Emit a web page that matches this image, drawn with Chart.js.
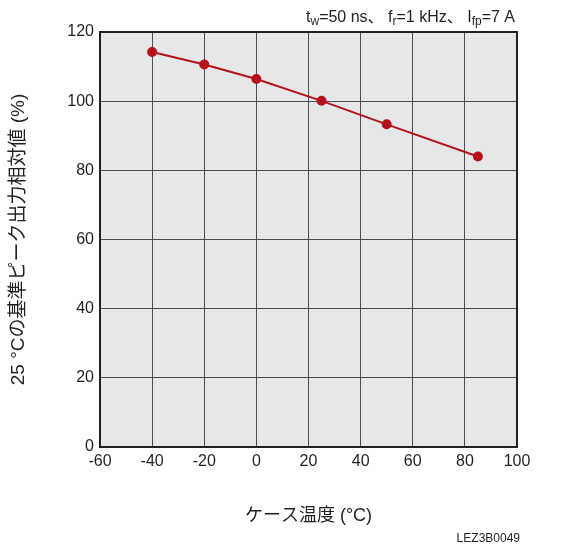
<!DOCTYPE html>
<html>
<head>
<meta charset="utf-8">
<script src="https://cdn.jsdelivr.net/npm/chart.js@4"></script>
<style>
  html, body { margin: 0; padding: 0; background: #fff; }
  #wrap { width: 576px; height: 546px; }
</style>
</head>
<body>
<div id="wrap"><canvas id="myChart"></canvas></div>
<script>
const temps = [-40, -20, 0, 25, 50, 85]
const relOutput = [114.2, 110.6, 106.4, 100.1, 93.3, 84.0]
const xTicks = [-60, -40, -20, 0, 20, 40, 60, 80, 100]
const yTicks = [0, 20, 40, 60, 80, 100, 120]

const FONT = "'Liberation Sans', Arial, 'Noto Sans CJK JP', sans-serif"

// gray plot area, full frame, condition note, figure code
const extras = {
  id: 'extras',
  beforeDraw(chart) {
    const { ctx, chartArea: a } = chart
    ctx.save()
    ctx.fillStyle = '#e6e7e9'
    ctx.fillRect(a.left, a.top, a.right - a.left, a.bottom - a.top)
    ctx.restore()
  },
  afterDraw(chart) {
    const { ctx, chartArea: a } = chart
    ctx.save()
    ctx.strokeStyle = '#231f20'
    ctx.lineWidth = 2
    ctx.strokeRect(a.left, a.top, a.right - a.left, a.bottom - a.top)

    ctx.fillStyle = '#231f20'
    ctx.textBaseline = 'alphabetic'
    const parts = [['t', 0], ['w', 1], ['=50 ns、 f', 0], ['r', 1], ['=1 kHz、 I', 0], ['fp', 1], ['=7 A', 0]]
    const big = '16px ' + FONT, small = '12px ' + FONT
    let w = 0
    parts.forEach(p => { ctx.font = p[1] ? small : big; w += ctx.measureText(p[0]).width })
    let x = a.right - 2 - w
    const base = 22
    parts.forEach(p => {
      ctx.font = p[1] ? small : big
      ctx.fillText(p[0], x, p[1] ? base + 3 : base)
      x += ctx.measureText(p[0]).width
    })
    ctx.font = '12px ' + FONT
    ctx.textAlign = 'right'
    ctx.fillText('LEZ3B0049', 520, 542)
    ctx.restore()
  }
}

const ctx = document.getElementById('myChart')
const myChart = new Chart(ctx, {
  type: 'line',
  data: {
    datasets: [{
      data: temps.map((t, i) => ({ x: t, y: relOutput[i] })),
      borderColor: '#b5121b',
      backgroundColor: '#b5121b',
      borderWidth: 2,
      pointRadius: 4,
      pointHoverRadius: 4,
      tension: 0
    }]
  },
  options: {
    responsive: true,
    maintainAspectRatio: false,
    animation: false,
    events: [],
    layout: { padding: { left: 0, right: 59, top: 32, bottom: 0 } },
    plugins: { legend: { display: false }, tooltip: { enabled: false } },
    scales: {
      x: {
        type: 'linear',
        min: -60, max: 100,
        afterBuildTicks: s => { s.ticks = xTicks.map(v => ({ value: v })) },
        afterFit: s => { s.height = 99 },
        grid: { color: '#4d4d4f', lineWidth: 1, drawTicks: false },
        border: { color: '#231f20', width: 2 },
        ticks: { color: '#231f20', font: { family: FONT, size: 16 }, padding: 5, maxRotation: 0, autoSkip: false },
        title: { display: true, text: 'ケース温度 (°C)', color: '#231f20', font: { family: FONT, size: 18 }, padding: { bottom: 19 } }
      },
      y: {
        min: 0, max: 120,
        afterBuildTicks: s => { s.ticks = yTicks.map(v => ({ value: v })) },
        afterFit: s => { s.width = 100 },
        grid: { color: '#4d4d4f', lineWidth: 1, drawTicks: false },
        border: { color: '#231f20', width: 2 },
        ticks: { color: '#231f20', font: { family: FONT, size: 16 }, padding: 6 },
        title: { display: true, text: '25 °Cの基準ピーク出力相対値 (%)', color: '#231f20', font: { family: FONT, size: 19 }, padding: { top: 7 } }
      }
    }
  },
  plugins: [extras]
});
</script>
</body>
</html>
